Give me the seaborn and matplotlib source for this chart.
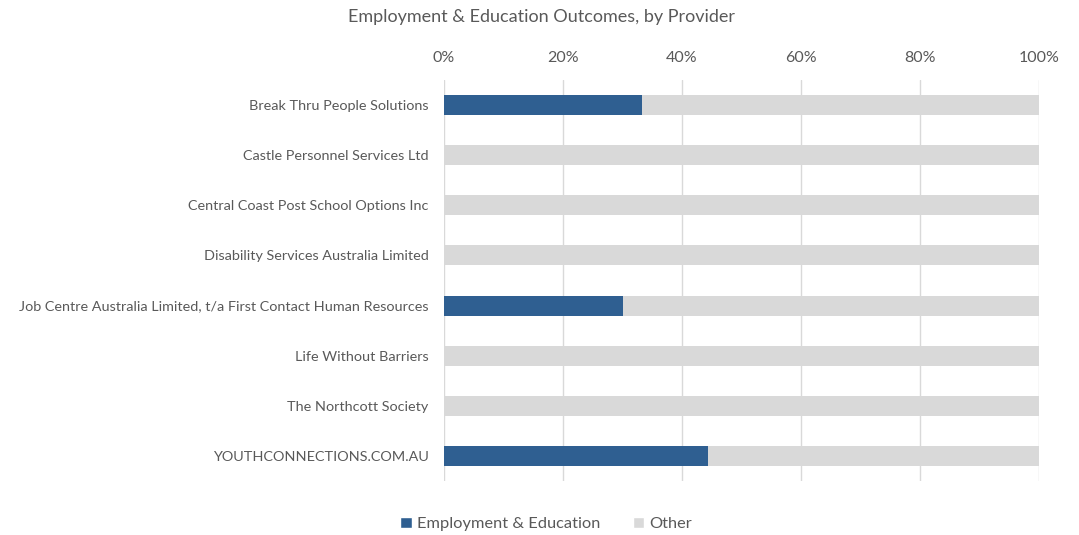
import matplotlib
matplotlib.use("Agg")
import matplotlib.pyplot as plt
import seaborn as sns
import pandas as pd
from matplotlib.patches import Patch
from matplotlib.ticker import PercentFormatter

providers = [
    "Break Thru People Solutions",
    "Castle Personnel Services Ltd",
    "Central Coast Post School Options Inc",
    "Disability Services Australia Limited",
    "Job Centre Australia Limited, t/a First Contact Human Resources",
    "Life Without Barriers",
    "The Northcott Society",
    "YOUTHCONNECTIONS.COM.AU",
]
employment_education = [33.3, 0, 0, 0, 30.0, 0, 0, 44.4]
other = [100 - v for v in employment_education]

BLUE = "#2F5F91"
GREY = "#D9D9D9"
TEXT = "#595959"

sns.set_theme(style="white")
plt.rcParams["font.family"] = ["Lato", "DejaVu Sans"]

df = pd.DataFrame({"provider": providers,
                   "emp": employment_education,
                   "total": [e + o for e, o in zip(employment_education, other)]})

fig = plt.figure(figsize=(10.79, 5.35), dpi=100)
ax = fig.add_axes([444 / 1079, 1 - 481 / 535, 595 / 1079, 401 / 535])

sns.barplot(data=df, y="provider", x="total", color=GREY, orient="h",
            width=0.4, ax=ax, saturation=1, zorder=2, linewidth=0)
sns.barplot(data=df, y="provider", x="emp", color=BLUE, orient="h",
            width=0.4, ax=ax, saturation=1, zorder=3, linewidth=0)

ax.set_xlim(0, 100)
ax.set_ylim(7.5, -0.5)
ax.xaxis.set_major_formatter(PercentFormatter(decimals=0))
ax.set_xticks([0, 20, 40, 60, 80, 100])
ax.xaxis.tick_top()
ax.tick_params(axis="x", length=0, pad=11, labelsize=11.5, colors=TEXT)
ax.tick_params(axis="y", length=0, pad=11, labelsize=10.4, colors=TEXT)
ax.grid(axis="x", color="#D9D9D9", linewidth=1, zorder=0)
ax.set_axisbelow(True)
for s in ax.spines.values():
    s.set_visible(False)
ax.set_xlabel("")
ax.set_ylabel("")

fig.text(542 / 1079, 1 - 17 / 535, "Employment & Education Outcomes, by Provider",
         ha="center", va="center", fontsize=13, color=TEXT)

handles = [Patch(facecolor=BLUE, label="Employment & Education"),
           Patch(facecolor=GREY, label="Other")]
fig.legend(handles=handles, loc="center", bbox_to_anchor=(546 / 1079, 1 - 524 / 535),
           ncol=2, frameon=False, fontsize=11.8, labelcolor=TEXT,
           handlelength=0.7, handleheight=0.7, handletextpad=0.3, columnspacing=2.0)

fig.savefig("out.png", dpi=100)
